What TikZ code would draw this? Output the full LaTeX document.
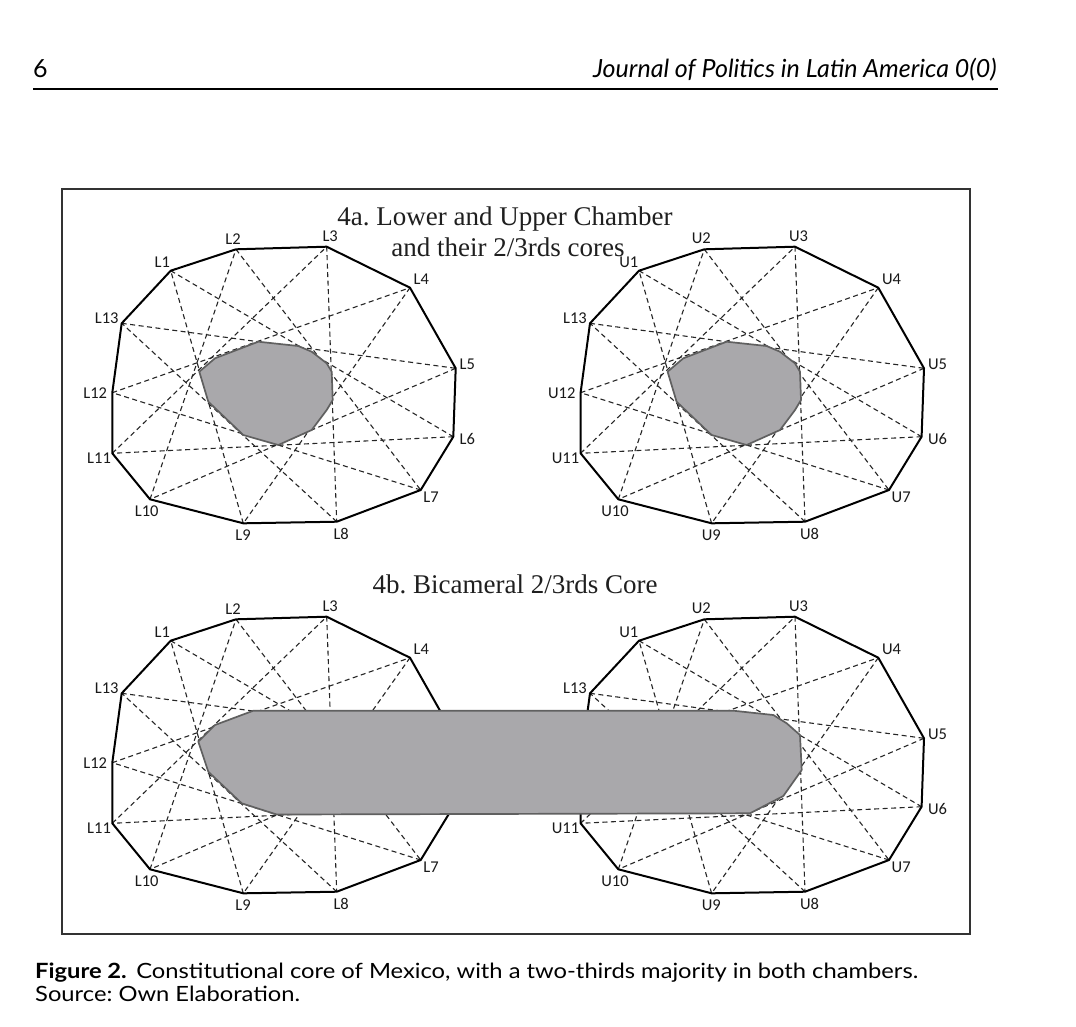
\documentclass[tikz,border=0pt]{standalone}
\usepackage{fontspec}
\setmainfont{Liberation Serif}
\newfontfamily\labfont{Carlito}
\newfontfamily\capfont{Lato}
\newfontfamily\capwide{Lato}[FakeStretch=1.13]
\definecolor{coregray}{HTML}{A9A8AB}
\definecolor{coreedge}{HTML}{606060}
\newcommand\chamberdraw[3]{%
\begin{scope}[shift={#3}]
\foreach \n/\px/\py in {1/170.7/270.7,2/236/249.3,3/326.7/246.7,4/410/287.7,5/455.7/368.3,6/453.3/436.7,7/420.7/490,8/336.7/521.7,9/243.3/523.3,10/150/499.3,11/112.3/453.3,12/112.3/392.7,13/121.7/323.3}
  {\coordinate (#1\n) at (\px,\py);}
\foreach \i in {1,...,13}{\pgfmathtruncatemacro\j{mod(\i+4,13)+1}\draw[starline] (#1\i) -- (#1\j);}
\draw[edge] (#11) -- (#12) -- (#13) -- (#14) -- (#15) -- (#16) -- (#17) -- (#18) -- (#19) -- (#110) -- (#111) -- (#112) -- (#113) -- cycle;
\foreach \n/\anc/\dx/\dy in {1/south east/-0.5/-2.8,2/south/-3/-5,3/south/3.5/-4.5,4/south west/3.5/-2.8,5/west/3.8/-4.3,6/west/6.2/2.6,7/north west/2.5/1.5,8/north/4.5/6.8,9/north/-0.3/5.8,10/north/-3.3/6.2,11/east/-1.2/5,12/east/-5/0.5}
  {\node[vlab, anchor=\anc] (#1lab\n) at ([shift={(\dx,\dy)}]#1\n) {#2\n};}
\node[vlab, anchor=east] (#1lab13) at ([shift={(-3,-5.2)}]#113) {L13};
\end{scope}}
\begin{document}
\frenchspacing
\begin{tikzpicture}[x=1pt,y=-1pt,
  edge/.style={line width=2pt, black, line join=round},
  starline/.style={line width=1.1pt, dash pattern=on 5pt off 3.5pt, black!85},
  core/.style={fill=coregray, draw=coreedge, line width=1.7pt, line join=round},
  vlab/.style={font=\labfont\fontsize{16.5}{17}\selectfont, inner sep=0pt, text=black!90},
  ttl/.style={font=\fontsize{27}{31}\selectfont, text=black!88, inner sep=0pt, align=center},
  captext/.style={font=\capwide\fontsize{21}{24}\selectfont, inner sep=0pt, anchor=base west},
  ]
\useasboundingbox[fill=white] (0,0) rectangle (1076,1026);
% header
\node[font=\capfont\fontsize{25}{28}\selectfont, inner sep=0pt, anchor=base west] (pagenum) at (33,77) {6};
\node[font=\capfont\itshape\fontsize{25}{28}\selectfont, inner sep=0pt, anchor=base east] (journal) at (997,77) {Journal of Politics in Latin America 0(0)};
\coordinate (hl) at (33,89);
\coordinate (hr) at (998,89);
\draw[line width=1.1pt] (hl) -- (hr);
% frame
\node[draw=black!80, line width=1.8pt, minimum width=908pt, minimum height=745pt, inner sep=0pt, anchor=north west] (frame) at (61,188) {};
% chambers
\chamberdraw{aL}{L}{(0,0)}
\chamberdraw{aU}{U}{(468.3,0)}
\chamberdraw{bL}{L}{(0,370)}
\chamberdraw{bU}{U}{(468.3,370)}
% cores 4a
\draw[core] (199.3,371.7) -- (215,358.3) -- (258.3,341.7) -- (298.3,346) -- (311.7,351.7) -- (326.7,363.3) -- (331.7,371.7) -- (332.7,400) -- (326.7,410) -- (311.7,430) -- (278.3,445) -- (243.3,435) -- (208.3,401.7) -- cycle;
\begin{scope}[shift={(468.3,0)}]
\draw[core] (199.3,371.7) -- (215,358.3) -- (258.3,341.7) -- (298.3,346) -- (311.7,351.7) -- (326.7,363.3) -- (331.7,371.7) -- (332.7,400) -- (326.7,410) -- (311.7,430) -- (278.3,445) -- (243.3,435) -- (208.3,401.7) -- cycle;
\end{scope}
% bicameral core
\draw[core] (253.3,710.7) -- (733.3,710.7) -- (773.3,715) -- (786.7,723.3) -- (800,735) -- (801.7,770) -- (783.3,796) -- (750,813.3) -- (276.7,814.5) -- (241.7,803.3) -- (208.3,771.7) -- (198.3,741.7) -- (215,725) -- cycle;
% titles
\node[ttl, anchor=base] (t4a1) at (505,225.5) {4a. Lower and Upper Chamber};
\node[ttl, anchor=base] (t4a2) at (508,256.5) {and their 2/3rds cores};
\node[ttl, anchor=base] (t4b) at (515,593) {4b. Bicameral 2/3rds Core};
% caption
\node[captext] (cap1) at (35,978) {\textbf{Figure 2.}\hspace{0.45em}Constitutional core of Mexico, with a two-thirds majority in both chambers.};
\node[captext] (cap2) at (35,1001) {Source: Own Elaboration.};
\end{tikzpicture}
\end{document}
